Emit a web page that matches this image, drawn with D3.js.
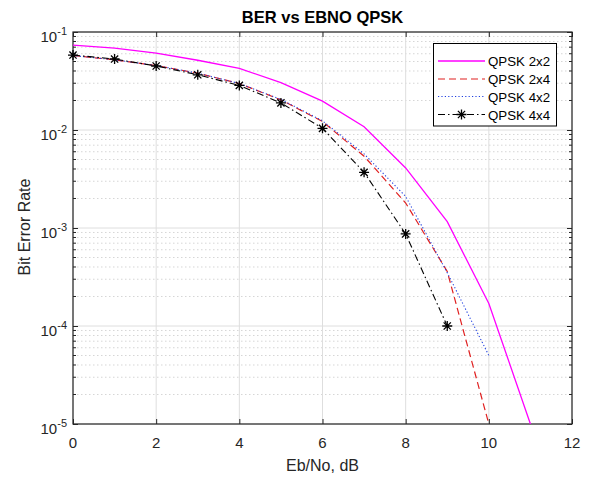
<!DOCTYPE html>
<html><head><meta charset="utf-8">
<script src="https://cdn.jsdelivr.net/npm/d3@7"></script>
<style>
body{margin:0;background:#fff;}
svg{display:block;font-family:"Liberation Sans",Arial,sans-serif;}
</style></head>
<body><svg id="c" width="592" height="477"></svg>
<script>
const ebno = [0,1,2,3,4,5,6,7,8,9,10,11];
const ber2x2 = [0.0736,0.0685,0.061,0.0515,0.0425,0.0305,0.0197,0.0108,0.0041,0.00116,0.00017,0.00001];
const ber2x4 = [0.0575,0.052,0.0455,0.038,0.0298,0.0203,0.0122,0.0054,0.0018,0.00036,0.00001];
const ber4x2 = [0.0575,0.052,0.0455,0.038,0.0298,0.0205,0.0124,0.0057,0.0021,0.00035,0.00005];
const ber4x4 = [0.0582,0.053,0.045,0.0366,0.0285,0.0189,0.0104,0.0037,0.00087,0.0001];
const seriesNames = ["QPSK 2x2","QPSK 2x4","QPSK 4x2","QPSK 4x4"];
const xTicks = [0,2,4,6,8,10,12];
const yTickExps = [-1,-2,-3,-4,-5];

const svg = d3.select("#c");
const L=73, R=572, T=32, B=424;
const x = d3.scaleLinear().domain([0,12]).range([L,R]);
const y = d3.scaleLog().domain([1e-5,1e-1]).range([B,T]);
const axisCol="#262626";

// grids
const g = svg.append("g");
// minor y grid
const minor=[];
for(let e=-5;e<-1;e++){for(let m=2;m<=9;m++){minor.push(m*Math.pow(10,e));}}
g.selectAll(".ym").data(minor).enter().append("line")
 .attr("x1",L).attr("x2",R).attr("y1",d=>y(d)).attr("y2",d=>y(d))
 .attr("stroke","#d6d6d6").attr("stroke-width",1).attr("stroke-dasharray","1.5,2.5");
g.selectAll(".yM").data(yTickExps.map(e=>Math.pow(10,e))).enter().append("line")
 .attr("x1",L).attr("x2",R).attr("y1",d=>y(d)).attr("y2",d=>y(d))
 .attr("stroke","#dedede").attr("stroke-width",1);
g.selectAll(".xM").data(xTicks).enter().append("line")
 .attr("y1",T).attr("y2",B).attr("x1",d=>x(d)).attr("x2",d=>x(d))
 .attr("stroke","#dedede").attr("stroke-width",1);

// axes via d3 axis (inward ticks)
const xAxis = d3.axisBottom(x).tickValues(xTicks).tickSize(-5).tickFormat("");
const xAxisTop = d3.axisTop(x).tickValues(xTicks).tickSize(-5).tickFormat("");
const yAxis = d3.axisLeft(y).tickValues(yTickExps.map(e=>Math.pow(10,e))).tickSize(-5).tickFormat("");
const yAxisR = d3.axisRight(y).tickValues(yTickExps.map(e=>Math.pow(10,e))).tickSize(-5).tickFormat("");
function styleAx(sel){sel.select(".domain").remove();sel.selectAll("line").attr("stroke",axisCol);}
svg.append("g").attr("transform",`translate(0,${B})`).call(xAxis).call(styleAx);
svg.append("g").attr("transform",`translate(0,${T})`).call(xAxisTop).call(styleAx);
svg.append("g").attr("transform",`translate(${L},0)`).call(yAxis).call(styleAx);
svg.append("g").attr("transform",`translate(${R},0)`).call(yAxisR).call(styleAx);
// minor y ticks
const mt = svg.append("g");
mt.selectAll(".a").data(minor).enter().append("line").attr("x1",L).attr("x2",L+3).attr("y1",d=>y(d)).attr("y2",d=>y(d)).attr("stroke",axisCol);
mt.selectAll(".b").data(minor).enter().append("line").attr("x1",R).attr("x2",R-3).attr("y1",d=>y(d)).attr("y2",d=>y(d)).attr("stroke",axisCol);

// box
svg.append("rect").attr("x",L).attr("y",T).attr("width",R-L).attr("height",B-T)
 .attr("fill","none").attr("stroke",axisCol).attr("stroke-width",1.2);

// tick labels
svg.selectAll(".xl").data(xTicks).enter().append("text")
 .attr("x",d=>x(d)).attr("y",B+24).attr("text-anchor","middle")
 .attr("font-size",15).attr("fill",axisCol).text(d=>d);
const yl = svg.selectAll(".yl").data(yTickExps).enter().append("text")
 .attr("x",67).attr("y",d=>y(Math.pow(10,d))+10).attr("text-anchor","end")
 .attr("font-size",15).attr("fill",axisCol);
yl.append("tspan").text("10");
yl.append("tspan").attr("dy",-7).attr("font-size",11).text(d=>String(d));

// labels
svg.append("text").attr("x",(L+R)/2).attr("y",23).attr("text-anchor","middle")
 .attr("font-size",16.5).attr("font-weight","bold").attr("fill","#000").text("BER vs EBNO QPSK");
svg.append("text").attr("x",(L+R)/2).attr("y",471).attr("text-anchor","middle")
 .attr("font-size",16).attr("fill",axisCol).text("Eb/No, dB");
svg.append("text").attr("transform","translate(30,227) rotate(-90)").attr("text-anchor","middle")
 .attr("font-size",16).attr("fill",axisCol).text("Bit Error Rate");

// series
const styles = [
 {data:ber2x2,color:"#ff00ff",dash:null,w:1.3},
 {data:ber2x4,color:"#e02020",dash:"7,4",w:1.2},
 {data:ber4x2,color:"#2040e0",dash:"1.2,2.2",w:1.1},
 {data:ber4x4,color:"#000000",dash:"7,3,1.5,3",w:1.1,marker:true}
];
svg.append("clipPath").attr("id","clip").append("rect").attr("x",L).attr("y",T).attr("width",R-L).attr("height",B-T+1);
const line = d3.line().x(d=>x(d[0])).y(d=>y(d[1]));
function star(sel,cx,cy,r){
  const p=`M${cx-r},${cy}L${cx+r},${cy}M${cx},${cy-r}L${cx},${cy+r}`+
   `M${cx-r*0.72},${cy-r*0.72}L${cx+r*0.72},${cy+r*0.72}M${cx-r*0.72},${cy+r*0.72}L${cx+r*0.72},${cy-r*0.72}`;
  sel.append("path").attr("d",p).attr("stroke","#000").attr("stroke-width",1.3).attr("fill","none");
}
const pl = svg.append("g").attr("clip-path","url(#clip)");
styles.forEach(s=>{
  const pts = s.data.map((v,i)=>[ebno[i],v]);
  pl.append("path").attr("d",line(pts)).attr("fill","none").attr("stroke",s.color)
    .attr("stroke-width",s.w).attr("stroke-dasharray",s.dash);
  if(s.marker){pts.forEach(p=>star(svg,x(p[0]),y(p[1]),5));}
});

// legend
const lg = svg.append("g");
lg.append("rect").attr("x",433.5).attr("y",43.5).attr("width",123).attr("height",82.5)
 .attr("fill","#fff").attr("stroke","#000").attr("stroke-width",1);
const ly=[61,79,96.5,114.5];
styles.forEach((s,i)=>{
  lg.append("line").attr("x1",438).attr("x2",485).attr("y1",ly[i]).attr("y2",ly[i])
   .attr("stroke",s.color).attr("stroke-width",s.w).attr("stroke-dasharray",s.dash);
  if(s.marker) star(lg,461.5,ly[i],5);
  lg.append("text").attr("x",488).attr("y",ly[i]+5).attr("font-size",13.3).attr("fill","#000").text(seriesNames[i]);
});
</script></body></html>
